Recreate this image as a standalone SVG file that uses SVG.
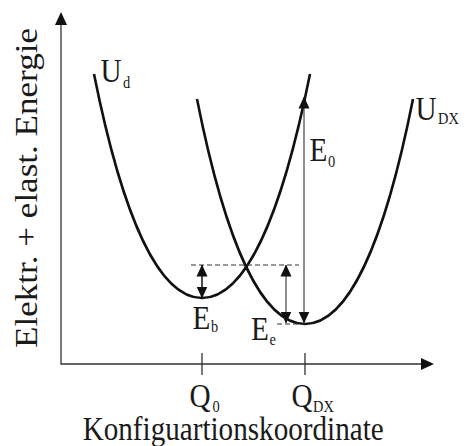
<svg xmlns="http://www.w3.org/2000/svg" width="465" height="446" viewBox="0 0 465 446">
  <style>
    text { font-family: "Liberation Serif", "DejaVu Serif", serif; fill: #1a1a1a; }
    .m { font-size: 34px; }
    .s { font-size: 16px; }
    .curve { fill: none; stroke: #111; stroke-width: 2.6; }
    .axis { fill: none; stroke: #333; stroke-width: 1.3; }
    .thin { fill: none; stroke: #444; stroke-width: 1.2; }
    .dbl { fill: none; stroke: #111; stroke-width: 1.5; }
    .dash { fill: none; stroke: #333; stroke-width: 1; stroke-dasharray: 5 3; }
  </style>
  <defs>
    <marker id="ah" viewBox="0 0 12 12" refX="11.5" refY="6" markerWidth="12" markerHeight="12" markerUnits="userSpaceOnUse" orient="auto-start-reverse">
      <path d="M0,0.5 L12,6 L0,11.5 z" fill="#111"/>
    </marker>
  </defs>

  <rect width="465" height="446" fill="#fff"/>

  <g id="axes">
    <path class="axis" d="M61,24 L61,364 L422,364"/>
    <path d="M61,12 L55,25 L67,25 z" fill="#111"/>
    <path d="M434,364 L421,358 L421,370 z" fill="#111"/>
    <path class="axis" d="M202,353 L202,375 M305,353 L305,375"/>
  </g>

  <g id="curve-Ud">
    <path class="curve" d="M94,74 C122,214 158,298 202,298 C246,298 282,214 310,74"/>
  </g>
  <g id="curve-UDX">
    <path class="curve" d="M197,99 C225,240 261,324 305,324 C349,324 385,240 413,99"/>
  </g>

  <g id="connectors">
    <path class="dash" d="M191,265 L299,265"/>
    <path class="dash" d="M277,324 L305,324"/>
    <path class="dbl" d="M202,265 L202,298" marker-start="url(#ah)" marker-end="url(#ah)"/>
    <path class="thin" d="M286,265 L286,323" marker-start="url(#ah)" marker-end="url(#ah)"/>
    <path class="thin" d="M304,97 L304,323" marker-start="url(#ah)" marker-end="url(#ah)"/>
  </g>

  <g id="label-Ud">
    <text class="m" transform="translate(100.5,82) scale(0.86,1)">U</text>
    <text class="s" transform="translate(123,88) scale(0.9,1)">d</text>
  </g>
  <g id="label-UDX">
    <text class="m" transform="translate(415.5,119.5) scale(0.86,1)">U</text>
    <text class="s" transform="translate(438,123.5) scale(0.9,1)">DX</text>
  </g>
  <g id="label-E0">
    <text class="m" transform="translate(309.5,161) scale(0.86,1)">E</text>
    <text class="s" transform="translate(328,167) scale(0.9,1)">0</text>
  </g>
  <g id="label-Eb">
    <text class="m" transform="translate(192.5,329) scale(0.86,1)">E</text>
    <text class="s" transform="translate(211,332) scale(0.9,1)">b</text>
  </g>
  <g id="label-Ee">
    <text class="m" transform="translate(251,340) scale(0.86,1)">E</text>
    <text class="s" transform="translate(269.5,345) scale(0.9,1)">e</text>
  </g>
  <g id="label-Q0">
    <text class="m" transform="translate(189.5,407) scale(0.86,1)">Q</text>
    <text class="s" transform="translate(212.5,411.5) scale(0.9,1)">0</text>
  </g>
  <g id="label-QDX">
    <text class="m" transform="translate(291.5,407) scale(0.86,1)">Q</text>
    <text class="s" transform="translate(313,411.5) scale(0.9,1)">DX</text>
  </g>

  <g id="axis-titles">
    <text class="m" x="82.7" y="439.5" textLength="301" lengthAdjust="spacingAndGlyphs">Konfiguartionskoordinate</text>
    <text font-size="34" transform="translate(37,188) scale(0.9,1) rotate(-90)" text-anchor="middle" textLength="320" lengthAdjust="spacingAndGlyphs">Elektr. + elast. Energie</text>
  </g>
</svg>
